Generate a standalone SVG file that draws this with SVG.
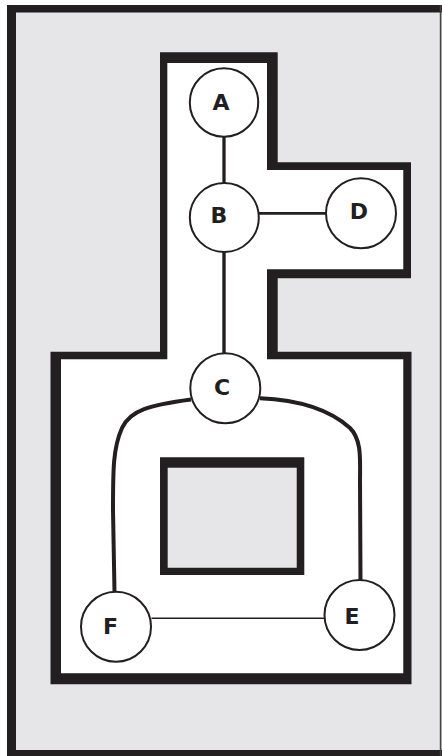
<svg xmlns="http://www.w3.org/2000/svg" width="442" height="756" viewBox="0 0 442 756">
<style>
.ink{fill:#231f20}
.node circle{fill:#fff;stroke:#231f20;stroke-width:2}
.node text{font-family:"DejaVu Sans","Liberation Sans",sans-serif;font-weight:bold;font-size:22px;fill:#231f20;text-anchor:middle}
.edge{fill:none;stroke:#231f20;stroke-linecap:butt}
</style>
<rect width="442" height="756" fill="#fff"/>
<g id="frame">
<rect x="7" y="5" width="435" height="751" fill="#e6e6e8"/>
<rect class="ink" x="7" y="5" width="9" height="751"/>
<rect class="ink" x="7" y="5" width="435" height="7.5"/>
<rect class="ink" x="7" y="750" width="435" height="6"/>
<rect x="439.8" y="5" width="1.6" height="751" fill="#444"/>
</g>
<g id="region">
<path fill="#fff" d="M167.3,63 H267 V170 H403.3 V269.3 H267 V359.3 H403.3 V673.3 H61 V359.3 H167.3 Z"/>
<path class="ink" fill-rule="evenodd" d="M160,52.3 H277.7 V162.3 H411 V278.3 H277.7 V351.7 H411.5 V684.3 H50.5 V351.7 H160 Z M167.3,63 V359.3 H61 V673.3 H403.3 V359.3 H267 V269.3 H403.3 V170 H267 V63 Z"/>
</g>
<g id="obstacle">
<rect x="167.7" y="467.7" width="129" height="100" fill="#e6e6e8"/>
<path class="ink" fill-rule="evenodd" d="M160,457.3 H304.3 V575 H160 Z M167.7,467.7 V567.7 H296.7 V467.7 Z"/>
</g>
<g id="connectors">
<line class="edge" x1="224" y1="136" x2="224" y2="183" stroke-width="3.3"/>
<line class="edge" x1="259" y1="213.3" x2="326" y2="213.3" stroke-width="2.8"/>
<line class="edge" x1="224" y1="251" x2="224" y2="354" stroke-width="3.4"/>
<path class="edge" stroke-width="4" d="M191,399.5 C150,405 130,410 122,428 C113,448 113,470 113,510 L114.5,592"/>
<path class="edge" stroke-width="4" d="M260,398.3 C300,400 330,410 350,428 C362,440 360,460 360,480 L360.5,581"/>
<line class="edge" x1="151.5" y1="618.3" x2="324.5" y2="618.3" stroke-width="1.6"/>
</g>
<g id="node-A" class="node"><circle cx="224" cy="102.5" r="34.2"/><text x="221" y="110">A</text></g>
<g id="node-B" class="node"><circle cx="224.3" cy="217.5" r="34.5"/><text x="219" y="223">B</text></g>
<g id="node-D" class="node"><circle cx="361" cy="213.3" r="35"/><text x="359" y="219">D</text></g>
<g id="node-C" class="node"><circle cx="225.3" cy="388.3" r="35"/><text x="222" y="395">C</text></g>
<g id="node-F" class="node"><circle cx="116" cy="626.7" r="35"/><text x="110.5" y="634">F</text></g>
<g id="node-E" class="node"><circle cx="359.5" cy="615" r="35"/><text x="352" y="623.5">E</text></g>
</svg>
